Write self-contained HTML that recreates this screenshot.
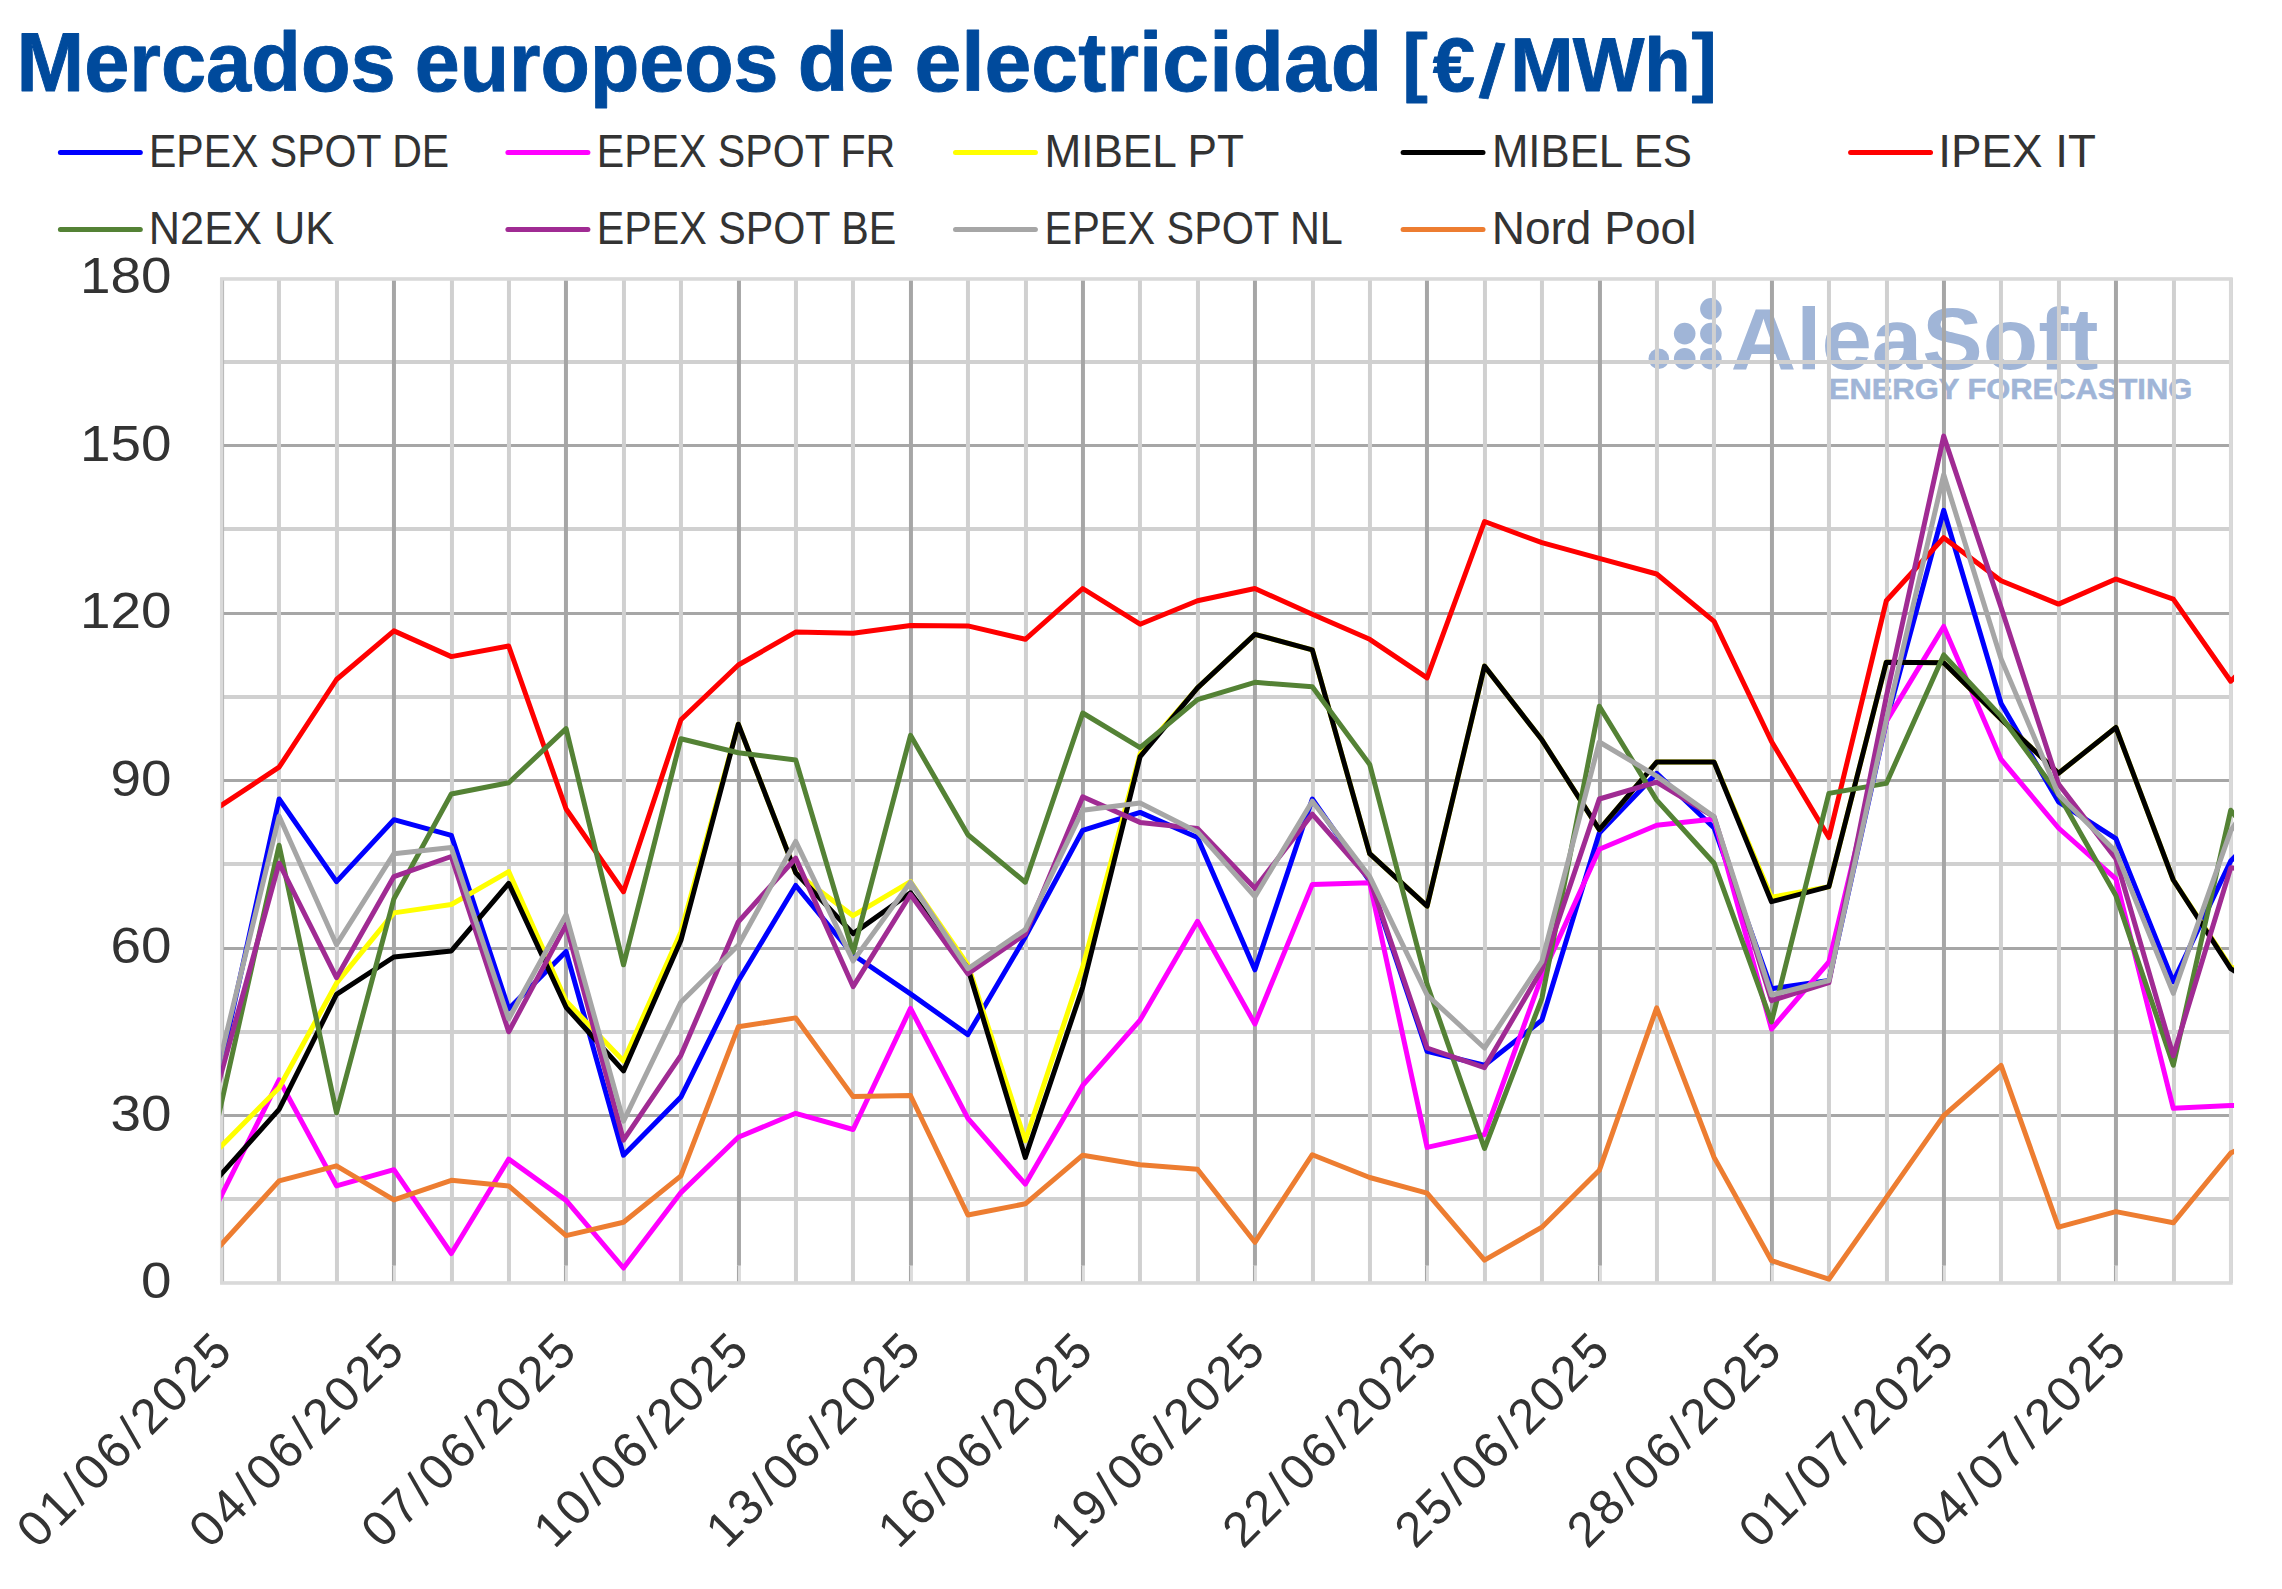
<!DOCTYPE html><html><head><meta charset="utf-8"><title>Mercados europeos de electricidad</title>
<style>html,body{margin:0;padding:0;background:#fff}svg{display:block}text{font-family:"Liberation Sans",Arial,sans-serif}</style></head><body>
<svg width="2282" height="1589" viewBox="0 0 2282 1589">
<rect width="2282" height="1589" fill="#fff"/>
<g font-weight="bold" fill="#004a9c" stroke="#004a9c" stroke-width="0.9" stroke-linejoin="round">
<text x="16.46" y="91.3" font-size="84" textLength="379.28" lengthAdjust="spacingAndGlyphs">Mercados</text>
<text x="414.82" y="91.3" font-size="84" textLength="363.67" lengthAdjust="spacingAndGlyphs">europeos</text>
<text x="797.67" y="91.3" font-size="84" textLength="96.52" lengthAdjust="spacingAndGlyphs">de</text>
<text x="914.38" y="91.3" font-size="84" textLength="467.79" lengthAdjust="spacingAndGlyphs">electricidad</text>
<text font-size="76" x="1402.4 1432.7 1478.6 1510.3 1572.8 1644.3 1691.6" y="86.8 91.3 96.3 91.3 91.3 91.3 86.8" rotate="0 0 6.5 0 0 0 0">[€/MWh]</text>
</g>
<g font-size="47" fill="#333">
<line x1="60.4" y1="152.5" x2="140.3" y2="152.5" stroke="#0000ff" stroke-width="5" stroke-linecap="round"/>
<text x="149.03" y="167.0" textLength="300.11" lengthAdjust="spacingAndGlyphs">EPEX SPOT DE</text>
<line x1="507.9" y1="152.5" x2="587.9" y2="152.5" stroke="#ff00ff" stroke-width="5" stroke-linecap="round"/>
<text x="596.72" y="167.0" textLength="298.56" lengthAdjust="spacingAndGlyphs">EPEX SPOT FR</text>
<line x1="955.5" y1="152.5" x2="1035.4" y2="152.5" stroke="#ffff00" stroke-width="5" stroke-linecap="round"/>
<text x="1044.38" y="167.0" textLength="199.51" lengthAdjust="spacingAndGlyphs">MIBEL PT</text>
<line x1="1403.1" y1="152.5" x2="1483.0" y2="152.5" stroke="#000000" stroke-width="5" stroke-linecap="round"/>
<text x="1491.91" y="167.0" textLength="200.12" lengthAdjust="spacingAndGlyphs">MIBEL ES</text>
<line x1="1850.6" y1="152.5" x2="1930.5" y2="152.5" stroke="#ff0000" stroke-width="5" stroke-linecap="round"/>
<text x="1938.35" y="167.0" textLength="157.70" lengthAdjust="spacingAndGlyphs">IPEX IT</text>
<line x1="60.4" y1="229.4" x2="140.3" y2="229.4" stroke="#548235" stroke-width="5" stroke-linecap="round"/>
<text x="148.85" y="243.8" textLength="185.26" lengthAdjust="spacingAndGlyphs">N2EX UK</text>
<line x1="507.9" y1="229.4" x2="587.9" y2="229.4" stroke="#a02b93" stroke-width="5" stroke-linecap="round"/>
<text x="596.71" y="243.8" textLength="299.54" lengthAdjust="spacingAndGlyphs">EPEX SPOT BE</text>
<line x1="955.5" y1="229.4" x2="1035.4" y2="229.4" stroke="#a6a6a6" stroke-width="5" stroke-linecap="round"/>
<text x="1044.60" y="243.8" textLength="298.31" lengthAdjust="spacingAndGlyphs">EPEX SPOT NL</text>
<line x1="1403.1" y1="229.4" x2="1483.0" y2="229.4" stroke="#ed7d31" stroke-width="5" stroke-linecap="round"/>
<text x="1491.72" y="243.8" textLength="204.64" lengthAdjust="spacingAndGlyphs">Nord Pool</text>
</g>
<g fill="#a0b5d7">
<circle cx="1710.9" cy="308.8" r="10.8"/>
<circle cx="1684.7" cy="333.6" r="10.8"/>
<circle cx="1710.9" cy="333.6" r="10.8"/>
<circle cx="1658.8" cy="358.7" r="10.3"/>
<circle cx="1684.7" cy="358.7" r="10.8"/>
<circle cx="1710.9" cy="358.7" r="10.8"/>
<text x="1730.76" y="368.7" font-size="87.5" textLength="367.81" lengthAdjust="spacingAndGlyphs" font-weight="bold">AleaSoft</text>
<text x="1828.84" y="398.8" font-size="30" textLength="363.48" lengthAdjust="spacingAndGlyphs" font-weight="bold" stroke="#a0b5d7" stroke-width="0.5">ENERGY FORECASTING</text>
</g>
<line x1="221.7" x2="2230.7" y1="1199.00" y2="1199.00" stroke="#d0d0d0" stroke-width="4"/>
<line x1="221.7" x2="2230.7" y1="1115.57" y2="1115.57" stroke="#a6a6a6" stroke-width="2.9"/>
<line x1="221.7" x2="2230.7" y1="1032.00" y2="1032.00" stroke="#d0d0d0" stroke-width="4"/>
<line x1="221.7" x2="2230.7" y1="948.57" y2="948.57" stroke="#a6a6a6" stroke-width="2.9"/>
<line x1="221.7" x2="2230.7" y1="864.00" y2="864.00" stroke="#d0d0d0" stroke-width="4"/>
<line x1="221.7" x2="2230.7" y1="780.57" y2="780.57" stroke="#a6a6a6" stroke-width="2.9"/>
<line x1="221.7" x2="2230.7" y1="697.00" y2="697.00" stroke="#d0d0d0" stroke-width="4"/>
<line x1="221.7" x2="2230.7" y1="613.57" y2="613.57" stroke="#a6a6a6" stroke-width="2.9"/>
<line x1="221.7" x2="2230.7" y1="529.00" y2="529.00" stroke="#d0d0d0" stroke-width="4"/>
<line x1="221.7" x2="2230.7" y1="445.57" y2="445.57" stroke="#a6a6a6" stroke-width="2.9"/>
<line x1="221.7" x2="2230.7" y1="362.00" y2="362.00" stroke="#d0d0d0" stroke-width="4"/>
<line x1="221.95" x2="221.95" y1="278.1" y2="1283.1" stroke="#d0d0d0" stroke-width="4"/>
<line x1="278.95" x2="278.95" y1="278.1" y2="1283.1" stroke="#d0d0d0" stroke-width="4"/>
<line x1="336.95" x2="336.95" y1="278.1" y2="1283.1" stroke="#d0d0d0" stroke-width="4"/>
<line x1="393.95" x2="393.95" y1="278.1" y2="1265.8" stroke="#a6a6a6" stroke-width="4"/>
<line x1="394.50" x2="394.50" y1="1265.8" y2="1283.1" stroke="#dcdcdc" stroke-width="2.9"/>
<line x1="392.50" x2="392.50" y1="1265.8" y2="1283.1" stroke="#a6a6a6" stroke-width="1.1"/>
<line x1="451.95" x2="451.95" y1="278.1" y2="1283.1" stroke="#d0d0d0" stroke-width="4"/>
<line x1="508.95" x2="508.95" y1="278.1" y2="1283.1" stroke="#d0d0d0" stroke-width="4"/>
<line x1="565.95" x2="565.95" y1="278.1" y2="1265.8" stroke="#a6a6a6" stroke-width="4"/>
<line x1="566.50" x2="566.50" y1="1265.8" y2="1283.1" stroke="#dcdcdc" stroke-width="2.9"/>
<line x1="564.50" x2="564.50" y1="1265.8" y2="1283.1" stroke="#a6a6a6" stroke-width="1.1"/>
<line x1="623.95" x2="623.95" y1="278.1" y2="1283.1" stroke="#d0d0d0" stroke-width="4"/>
<line x1="680.95" x2="680.95" y1="278.1" y2="1283.1" stroke="#d0d0d0" stroke-width="4"/>
<line x1="738.95" x2="738.95" y1="278.1" y2="1265.8" stroke="#a6a6a6" stroke-width="4"/>
<line x1="739.50" x2="739.50" y1="1265.8" y2="1283.1" stroke="#dcdcdc" stroke-width="2.9"/>
<line x1="737.50" x2="737.50" y1="1265.8" y2="1283.1" stroke="#a6a6a6" stroke-width="1.1"/>
<line x1="795.95" x2="795.95" y1="278.1" y2="1283.1" stroke="#d0d0d0" stroke-width="4"/>
<line x1="852.95" x2="852.95" y1="278.1" y2="1283.1" stroke="#d0d0d0" stroke-width="4"/>
<line x1="910.95" x2="910.95" y1="278.1" y2="1265.8" stroke="#a6a6a6" stroke-width="4"/>
<line x1="911.50" x2="911.50" y1="1265.8" y2="1283.1" stroke="#dcdcdc" stroke-width="2.9"/>
<line x1="909.50" x2="909.50" y1="1265.8" y2="1283.1" stroke="#a6a6a6" stroke-width="1.1"/>
<line x1="967.95" x2="967.95" y1="278.1" y2="1283.1" stroke="#d0d0d0" stroke-width="4"/>
<line x1="1025.95" x2="1025.95" y1="278.1" y2="1283.1" stroke="#d0d0d0" stroke-width="4"/>
<line x1="1082.95" x2="1082.95" y1="278.1" y2="1265.8" stroke="#a6a6a6" stroke-width="4"/>
<line x1="1083.50" x2="1083.50" y1="1265.8" y2="1283.1" stroke="#dcdcdc" stroke-width="2.9"/>
<line x1="1081.50" x2="1081.50" y1="1265.8" y2="1283.1" stroke="#a6a6a6" stroke-width="1.1"/>
<line x1="1139.95" x2="1139.95" y1="278.1" y2="1283.1" stroke="#d0d0d0" stroke-width="4"/>
<line x1="1197.95" x2="1197.95" y1="278.1" y2="1283.1" stroke="#d0d0d0" stroke-width="4"/>
<line x1="1254.95" x2="1254.95" y1="278.1" y2="1265.8" stroke="#a6a6a6" stroke-width="4"/>
<line x1="1255.50" x2="1255.50" y1="1265.8" y2="1283.1" stroke="#dcdcdc" stroke-width="2.9"/>
<line x1="1253.50" x2="1253.50" y1="1265.8" y2="1283.1" stroke="#a6a6a6" stroke-width="1.1"/>
<line x1="1312.95" x2="1312.95" y1="278.1" y2="1283.1" stroke="#d0d0d0" stroke-width="4"/>
<line x1="1369.95" x2="1369.95" y1="278.1" y2="1283.1" stroke="#d0d0d0" stroke-width="4"/>
<line x1="1426.95" x2="1426.95" y1="278.1" y2="1265.8" stroke="#a6a6a6" stroke-width="4"/>
<line x1="1427.50" x2="1427.50" y1="1265.8" y2="1283.1" stroke="#dcdcdc" stroke-width="2.9"/>
<line x1="1425.50" x2="1425.50" y1="1265.8" y2="1283.1" stroke="#a6a6a6" stroke-width="1.1"/>
<line x1="1484.95" x2="1484.95" y1="278.1" y2="1283.1" stroke="#d0d0d0" stroke-width="4"/>
<line x1="1541.95" x2="1541.95" y1="278.1" y2="1283.1" stroke="#d0d0d0" stroke-width="4"/>
<line x1="1599.95" x2="1599.95" y1="278.1" y2="1265.8" stroke="#a6a6a6" stroke-width="4"/>
<line x1="1600.50" x2="1600.50" y1="1265.8" y2="1283.1" stroke="#dcdcdc" stroke-width="2.9"/>
<line x1="1598.50" x2="1598.50" y1="1265.8" y2="1283.1" stroke="#a6a6a6" stroke-width="1.1"/>
<line x1="1656.95" x2="1656.95" y1="278.1" y2="1283.1" stroke="#d0d0d0" stroke-width="4"/>
<line x1="1713.95" x2="1713.95" y1="278.1" y2="1283.1" stroke="#d0d0d0" stroke-width="4"/>
<line x1="1771.95" x2="1771.95" y1="278.1" y2="1265.8" stroke="#a6a6a6" stroke-width="4"/>
<line x1="1772.50" x2="1772.50" y1="1265.8" y2="1283.1" stroke="#dcdcdc" stroke-width="2.9"/>
<line x1="1770.50" x2="1770.50" y1="1265.8" y2="1283.1" stroke="#a6a6a6" stroke-width="1.1"/>
<line x1="1828.95" x2="1828.95" y1="278.1" y2="1283.1" stroke="#d0d0d0" stroke-width="4"/>
<line x1="1886.95" x2="1886.95" y1="278.1" y2="1283.1" stroke="#d0d0d0" stroke-width="4"/>
<line x1="1943.95" x2="1943.95" y1="278.1" y2="1265.8" stroke="#a6a6a6" stroke-width="4"/>
<line x1="1944.50" x2="1944.50" y1="1265.8" y2="1283.1" stroke="#dcdcdc" stroke-width="2.9"/>
<line x1="1942.50" x2="1942.50" y1="1265.8" y2="1283.1" stroke="#a6a6a6" stroke-width="1.1"/>
<line x1="2000.95" x2="2000.95" y1="278.1" y2="1283.1" stroke="#d0d0d0" stroke-width="4"/>
<line x1="2058.95" x2="2058.95" y1="278.1" y2="1283.1" stroke="#d0d0d0" stroke-width="4"/>
<line x1="2115.95" x2="2115.95" y1="278.1" y2="1265.8" stroke="#a6a6a6" stroke-width="4"/>
<line x1="2116.50" x2="2116.50" y1="1265.8" y2="1283.1" stroke="#dcdcdc" stroke-width="2.9"/>
<line x1="2114.50" x2="2114.50" y1="1265.8" y2="1283.1" stroke="#a6a6a6" stroke-width="1.1"/>
<line x1="2173.95" x2="2173.95" y1="278.1" y2="1283.1" stroke="#d0d0d0" stroke-width="4"/>
<line x1="2230.95" x2="2230.95" y1="278.1" y2="1283.1" stroke="#d0d0d0" stroke-width="4"/>
<rect x="221.84" y="278.98" width="2009.10" height="1003.99" fill="none" stroke="#d9d9d9" stroke-width="3.6"/>
<line x1="223.6" x2="223.6" y1="280.6" y2="1281.1" stroke="#b4b4b4" stroke-width="0.9"/>
<clipPath id="cp"><rect x="221.19" y="268.1" width="2012.85" height="1017.0"/></clipPath>
<g clip-path="url(#cp)" fill="none" stroke-width="5" stroke-linejoin="round" stroke-linecap="round">
<polyline points="164.3,1323.8 221.7,1061.4 279.1,799.0 336.5,881.6 393.9,819.7 451.3,835.3 508.7,1008.9 566.1,951.4 623.5,1155.2 680.9,1097.1 738.3,981.0 795.7,885.5 853.1,954.8 910.5,993.9 967.9,1034.6 1025.3,936.9 1082.7,830.3 1140.1,812.4 1197.5,837.5 1254.9,969.8 1312.3,799.0 1369.7,881.1 1427.1,1051.4 1484.5,1065.3 1541.9,1020.1 1599.3,833.1 1656.7,773.3 1714.1,828.0 1771.5,988.8 1828.9,980.5 1886.3,721.9 1943.7,510.3 2001.1,703.5 2058.5,801.8 2115.9,838.6 2173.3,981.6 2230.7,861.0 2288.1,802.9" stroke="#0000ff"/>
<polyline points="164.3,1309.9 221.7,1194.9 279.1,1079.8 336.5,1185.9 393.9,1169.7 451.3,1253.5 508.7,1159.1 566.1,1200.4 623.5,1268.0 680.9,1192.6 738.3,1137.3 795.7,1113.3 853.1,1129.5 910.5,1008.4 967.9,1118.4 1025.3,1184.2 1082.7,1085.4 1140.1,1020.1 1197.5,921.3 1254.9,1024.0 1312.3,884.4 1369.7,882.7 1427.1,1147.4 1484.5,1134.6 1541.9,976.0 1599.3,849.2 1656.7,825.2 1714.1,819.1 1771.5,1029.0 1828.9,962.0 1886.3,721.4 1943.7,626.5 2001.1,759.4 2058.5,828.0 2115.9,878.8 2173.3,1108.3 2230.7,1105.5 2288.1,1104.4" stroke="#ff00ff"/>
<polyline points="164.3,1203.8 221.7,1145.7 279.1,1087.7 336.5,983.2 393.9,912.9 451.3,904.5 508.7,871.6 566.1,1001.1 623.5,1060.9 680.9,931.9 738.3,724.2 795.7,872.7 853.1,915.7 910.5,881.6 967.9,964.8 1025.3,1140.7 1082.7,967.1 1140.1,753.8 1197.5,687.9 1254.9,634.3 1312.3,649.9 1369.7,853.7 1427.1,906.2 1484.5,666.1 1541.9,739.8 1599.3,829.7 1656.7,762.1 1714.1,762.1 1771.5,897.3 1828.9,886.7 1886.3,662.2 1943.7,662.8 2001.1,719.2 2058.5,773.3 2115.9,727.5 2173.3,880.0 2230.7,967.1 2288.1,981.6" stroke="#ffff00"/>
<polyline points="164.3,1237.8 221.7,1173.6 279.1,1109.4 336.5,994.4 393.9,957.0 451.3,950.9 508.7,883.3 566.1,1007.3 623.5,1070.9 680.9,940.3 738.3,724.2 795.7,872.7 853.1,933.6 910.5,892.8 967.9,968.2 1025.3,1157.4 1082.7,987.2 1140.1,756.6 1197.5,687.9 1254.9,634.3 1312.3,649.9 1369.7,853.7 1427.1,906.2 1484.5,666.1 1541.9,739.8 1599.3,829.7 1656.7,762.1 1714.1,762.1 1771.5,901.7 1828.9,886.7 1886.3,662.2 1943.7,662.8 2001.1,719.2 2058.5,773.3 2115.9,727.5 2173.3,880.0 2230.7,968.7 2288.1,1003.9" stroke="#000000"/>
<polyline points="164.3,843.1 221.7,805.1 279.1,767.2 336.5,679.5 393.9,630.9 451.3,656.6 508.7,646.0 566.1,809.0 623.5,891.7 680.9,719.7 738.3,665.0 795.7,632.1 853.1,633.2 910.5,625.4 967.9,625.9 1025.3,639.3 1082.7,588.5 1140.1,624.2 1197.5,600.8 1254.9,588.5 1312.3,614.2 1369.7,639.3 1427.1,677.8 1484.5,521.5 1541.9,542.7 1599.3,558.4 1656.7,574.0 1714.1,621.4 1771.5,741.5 1828.9,837.5 1886.3,600.8 1943.7,537.7 2001.1,580.7 2058.5,604.1 2115.9,579.0 2173.3,599.1 2230.7,681.2 2288.1,624.2" stroke="#ff0000"/>
<polyline points="164.3,1357.9 221.7,1101.6 279.1,845.3 336.5,1112.8 393.9,898.9 451.3,794.0 508.7,782.8 566.1,728.6 623.5,964.8 680.9,738.7 738.3,752.7 795.7,759.9 853.1,952.5 910.5,735.3 967.9,834.7 1025.3,882.2 1082.7,713.0 1140.1,747.6 1197.5,699.6 1254.9,682.3 1312.3,686.8 1369.7,764.4 1427.1,984.4 1484.5,1148.5 1541.9,998.3 1599.3,706.3 1656.7,800.1 1714.1,863.2 1771.5,1021.8 1828.9,793.4 1886.3,783.4 1943.7,654.9 2001.1,716.4 2058.5,794.5 2115.9,895.6 2173.3,1065.3 2230.7,810.2 2288.1,881.1" stroke="#548235"/>
<polyline points="164.3,1279.7 221.7,1071.5 279.1,863.2 336.5,977.7 393.9,876.6 451.3,856.5 508.7,1031.8 566.1,924.6 623.5,1140.1 680.9,1055.3 738.3,921.8 795.7,858.2 853.1,986.6 910.5,894.5 967.9,973.8 1025.3,934.1 1082.7,796.8 1140.1,822.4 1197.5,828.6 1254.9,888.3 1312.3,814.1 1369.7,879.4 1427.1,1048.0 1484.5,1067.6 1541.9,969.3 1599.3,799.0 1656.7,782.2 1714.1,816.9 1771.5,1000.6 1828.9,982.7 1886.3,696.8 1943.7,436.1 2001.1,607.5 2058.5,783.9 2115.9,858.7 2173.3,1055.8 2230.7,867.7 2288.1,875.5" stroke="#a02b93"/>
<polyline points="164.3,1289.8 221.7,1053.0 279.1,816.3 336.5,944.7 393.9,853.7 451.3,847.6 508.7,1019.0 566.1,914.6 623.5,1121.2 680.9,1002.2 738.3,945.3 795.7,841.4 853.1,960.9 910.5,882.2 967.9,968.7 1025.3,929.6 1082.7,810.2 1140.1,802.9 1197.5,831.9 1254.9,896.7 1312.3,801.2 1369.7,876.6 1427.1,995.0 1484.5,1048.0 1541.9,961.5 1599.3,742.0 1656.7,776.1 1714.1,816.9 1771.5,995.0 1828.9,980.5 1886.3,720.3 1943.7,474.6 2001.1,658.9 2058.5,794.5 2115.9,851.5 2173.3,993.3 2230.7,830.8 2288.1,747.1" stroke="#a6a6a6"/>
<polyline points="164.3,1307.1 221.7,1244.0 279.1,1180.9 336.5,1165.8 393.9,1199.9 451.3,1180.3 508.7,1185.9 566.1,1235.6 623.5,1222.2 680.9,1175.9 738.3,1026.8 795.7,1017.9 853.1,1096.6 910.5,1095.5 967.9,1215.0 1025.3,1203.8 1082.7,1155.2 1140.1,1164.7 1197.5,1169.2 1254.9,1242.3 1312.3,1154.7 1369.7,1177.5 1427.1,1193.2 1484.5,1260.2 1541.9,1227.2 1599.3,1170.3 1656.7,1007.8 1714.1,1157.4 1771.5,1260.7 1828.9,1279.2 1886.3,1197.6 1943.7,1115.6 2001.1,1065.3 2058.5,1227.2 2115.9,1211.6 2173.3,1222.8 2230.7,1153.0 2288.1,1126.7" stroke="#ed7d31"/>
</g>
<g font-size="49.5" fill="#333" text-anchor="end">
<text x="171.6" y="1298.3" textLength="30.5" lengthAdjust="spacingAndGlyphs">0</text>
<text x="171.6" y="1130.8" textLength="61.0" lengthAdjust="spacingAndGlyphs">30</text>
<text x="171.6" y="963.3" textLength="61.0" lengthAdjust="spacingAndGlyphs">60</text>
<text x="171.6" y="795.8" textLength="61.0" lengthAdjust="spacingAndGlyphs">90</text>
<text x="171.6" y="628.3" textLength="91.5" lengthAdjust="spacingAndGlyphs">120</text>
<text x="171.6" y="460.8" textLength="91.5" lengthAdjust="spacingAndGlyphs">150</text>
<text x="171.6" y="293.3" textLength="91.5" lengthAdjust="spacingAndGlyphs">180</text>
</g>
<g font-size="49.5" fill="#333">
<text transform="translate(234.9,1352.8) rotate(-45)" x="-279.0 -248.9 -217.1 -199.1 -169.0 -137.2 -119.1 -89.0 -58.9 -28.8" y="0">01/06/2025</text>
<text transform="translate(407.1,1352.8) rotate(-45)" x="-279.0 -248.9 -217.1 -199.1 -169.0 -137.2 -119.1 -89.0 -58.9 -28.8" y="0">04/06/2025</text>
<text transform="translate(579.3,1352.8) rotate(-45)" x="-279.0 -248.9 -217.1 -199.1 -169.0 -137.2 -119.1 -89.0 -58.9 -28.8" y="0">07/06/2025</text>
<text transform="translate(751.5,1352.8) rotate(-45)" x="-279.0 -248.9 -217.1 -199.1 -169.0 -137.2 -119.1 -89.0 -58.9 -28.8" y="0">10/06/2025</text>
<text transform="translate(923.7,1352.8) rotate(-45)" x="-279.0 -248.9 -217.1 -199.1 -169.0 -137.2 -119.1 -89.0 -58.9 -28.8" y="0">13/06/2025</text>
<text transform="translate(1095.9,1352.8) rotate(-45)" x="-279.0 -248.9 -217.1 -199.1 -169.0 -137.2 -119.1 -89.0 -58.9 -28.8" y="0">16/06/2025</text>
<text transform="translate(1268.1,1352.8) rotate(-45)" x="-279.0 -248.9 -217.1 -199.1 -169.0 -137.2 -119.1 -89.0 -58.9 -28.8" y="0">19/06/2025</text>
<text transform="translate(1440.3,1352.8) rotate(-45)" x="-279.0 -248.9 -217.1 -199.1 -169.0 -137.2 -119.1 -89.0 -58.9 -28.8" y="0">22/06/2025</text>
<text transform="translate(1612.5,1352.8) rotate(-45)" x="-279.0 -248.9 -217.1 -199.1 -169.0 -137.2 -119.1 -89.0 -58.9 -28.8" y="0">25/06/2025</text>
<text transform="translate(1784.7,1352.8) rotate(-45)" x="-279.0 -248.9 -217.1 -199.1 -169.0 -137.2 -119.1 -89.0 -58.9 -28.8" y="0">28/06/2025</text>
<text transform="translate(1956.9,1352.8) rotate(-45)" x="-279.0 -248.9 -217.1 -199.1 -169.0 -137.2 -119.1 -89.0 -58.9 -28.8" y="0">01/07/2025</text>
<text transform="translate(2129.1,1352.8) rotate(-45)" x="-279.0 -248.9 -217.1 -199.1 -169.0 -137.2 -119.1 -89.0 -58.9 -28.8" y="0">04/07/2025</text>
</g>
</svg></body></html>
